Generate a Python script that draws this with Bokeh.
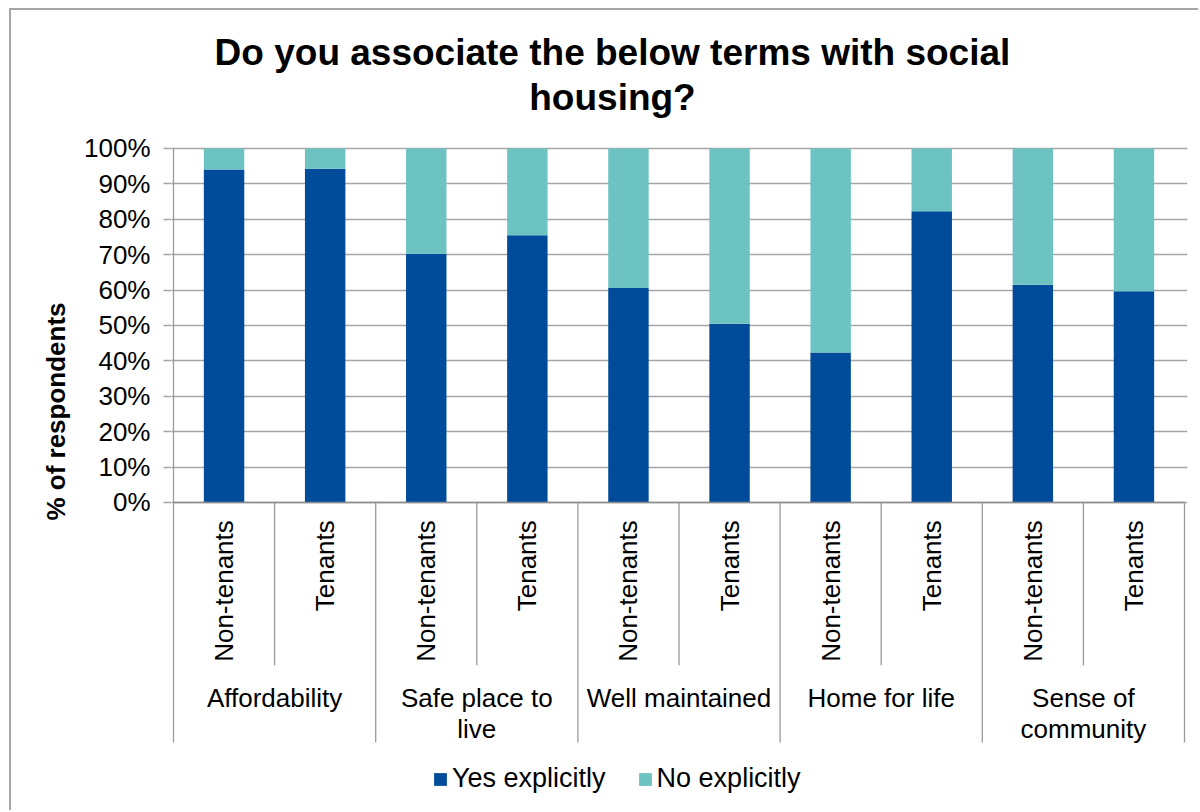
from bokeh.plotting import figure
from bokeh.models import (ColumnDataSource, Range1d, FixedTicker, PrintfTickFormatter,
                          Legend, LegendItem, Label)
from bokeh.core.properties import value
from bokeh.embed import file_html
from bokeh.resources import INLINE

# ---------------- data ----------------
groups = ["Affordability", "Safe place to\nlive", "Well maintained", "Home for life", "Sense of\ncommunity"]
subgroups = ["Non-tenants", "Tenants"]
yes_pct = [94.1, 94.3, 70.3, 75.5, 60.6, 50.5, 42.4, 82.3, 61.5, 59.7]
no_pct = [5.9, 5.7, 29.7, 24.5, 39.4, 49.5, 57.6, 17.7, 38.5, 40.3]
series = ["Yes explicitly", "No explicitly"]
y_ticks = [0, 10, 20, 30, 40, 50, 60, 70, 80, 90, 100]
title_lines = ["Do you associate the below terms with social", "housing?"]
y_label = "% of respondents"

# ---------------- styling ----------------
FONT = "Liberation Sans"
BLUE = "#004C9B"
TEAL = "#6CC3C1"
GRID = "#a6a6a6"
SEP = "#9a9a9a"

n_sub = len(subgroups)
n_bars = len(groups) * n_sub
x_center = [i + 0.5 for i in range(n_bars)]
sub_labels = [subgroups[i % n_sub] for i in range(n_bars)]

src = ColumnDataSource(dict(x=x_center, yes=yes_pct, no=no_pct, sub=sub_labels))

p = figure(width=1189, height=802, output_backend="svg", toolbar_location=None,
           x_axis_type=None, title=None,
           x_range=Range1d(-0.0198, 10.0297), y_range=Range1d(-87.57, 138.98),
           min_border_left=160, min_border_right=13, min_border_top=0, min_border_bottom=0)
p.outline_line_color = None
p.background_fill_color = "white"
p.border_fill_color = "white"
p.styles = {"margin-left": "9px", "margin-top": "8px",
            "border-left": "2px solid #a6a6a6", "border-top": "2px solid #a6a6a6"}

# y axis
yax = p.yaxis[0]
yax.ticker = FixedTicker(ticks=y_ticks)
yax.formatter = PrintfTickFormatter(format="%d%%")
yax.axis_line_color = None
yax.major_tick_out = 8
yax.major_tick_in = 0
yax.minor_tick_line_color = None
yax.major_tick_line_color = GRID
yax.major_tick_line_width = 1.3
yax.major_label_standoff = 13
yax.major_label_text_font = FONT
yax.major_label_text_font_size = "26px"
yax.major_label_text_color = "black"
yax.axis_label = y_label
yax.axis_label_text_font = FONT
yax.axis_label_text_font_size = "26px"
yax.axis_label_text_font_style = "bold"
yax.axis_label_text_color = "black"
yax.axis_label_standoff = 10

p.xgrid.visible = False
p.ygrid.ticker = FixedTicker(ticks=y_ticks)
p.ygrid.grid_line_color = GRID
p.ygrid.grid_line_width = 1.3

# bars
rs = p.vbar_stack(["yes", "no"], x="x", width=0.4, color=[BLUE, TEAL], line_width=0, source=src)

# separators (axis line + category lines)
SUB_DEPTH = -46.0
GROUP_DEPTH = -67.8
gx = [g * n_sub for g in range(len(groups) + 1)]
p.segment(x0=gx, x1=gx, y0=[0] * len(gx), y1=[GROUP_DEPTH] * len(gx), line_color=SEP, line_width=1.3)
p.segment(x0=[0], x1=[0], y0=[0], y1=[100], line_color=SEP, line_width=1.3)
sx = [g * n_sub + k for g in range(len(groups)) for k in range(1, n_sub)]
p.segment(x0=sx, x1=sx, y0=[0] * len(sx), y1=[SUB_DEPTH] * len(sx), line_color=SEP, line_width=1.3)
p.segment(x0=[0], x1=[10], y0=[0], y1=[0], line_color="#8c8c8c", line_width=1.3)

# sub-category labels (rotated)
p.text(x="x", y=-5.0, text="sub", source=src, angle=1.5708, text_align="right",
       text_baseline="middle", text_font=value(FONT), text_font_size="26px", text_color="black")

# group labels
gl_x, gl_y, gl_t = [], [], []
for gi, g in enumerate(groups):
    for li, line in enumerate(g.split("\n")):
        gl_x.append(gi * n_sub + n_sub / 2)
        gl_y.append(-55.1 - li * 8.8)
        gl_t.append(line)
p.text(x=gl_x, y=gl_y, text=gl_t, text_align="center", text_baseline="middle",
       text_font=value(FONT), text_font_size="26px", text_color="black")

# title
for li, line in enumerate(title_lines):
    p.add_layout(Label(x=4.342, y=127.1 - li * 12.7, text=line, text_align="center",
                       text_baseline="middle", text_font=FONT, text_font_size="37px",
                       text_font_style="bold", text_color="black"))

# legend
legend = Legend(items=[LegendItem(label=series[0], renderers=[rs[0]]),
                       LegendItem(label=series[1], renderers=[rs[1]])],
                orientation="horizontal", location=(261, 18),
                glyph_width=16, glyph_height=16, label_standoff=4, spacing=31,
                padding=0, margin=0, border_line_color=None, background_fill_alpha=0,
                label_text_font=FONT, label_text_font_size="27px", label_text_color="black")
p.add_layout(legend)

open("out.html", "w").write(file_html(p, INLINE))
